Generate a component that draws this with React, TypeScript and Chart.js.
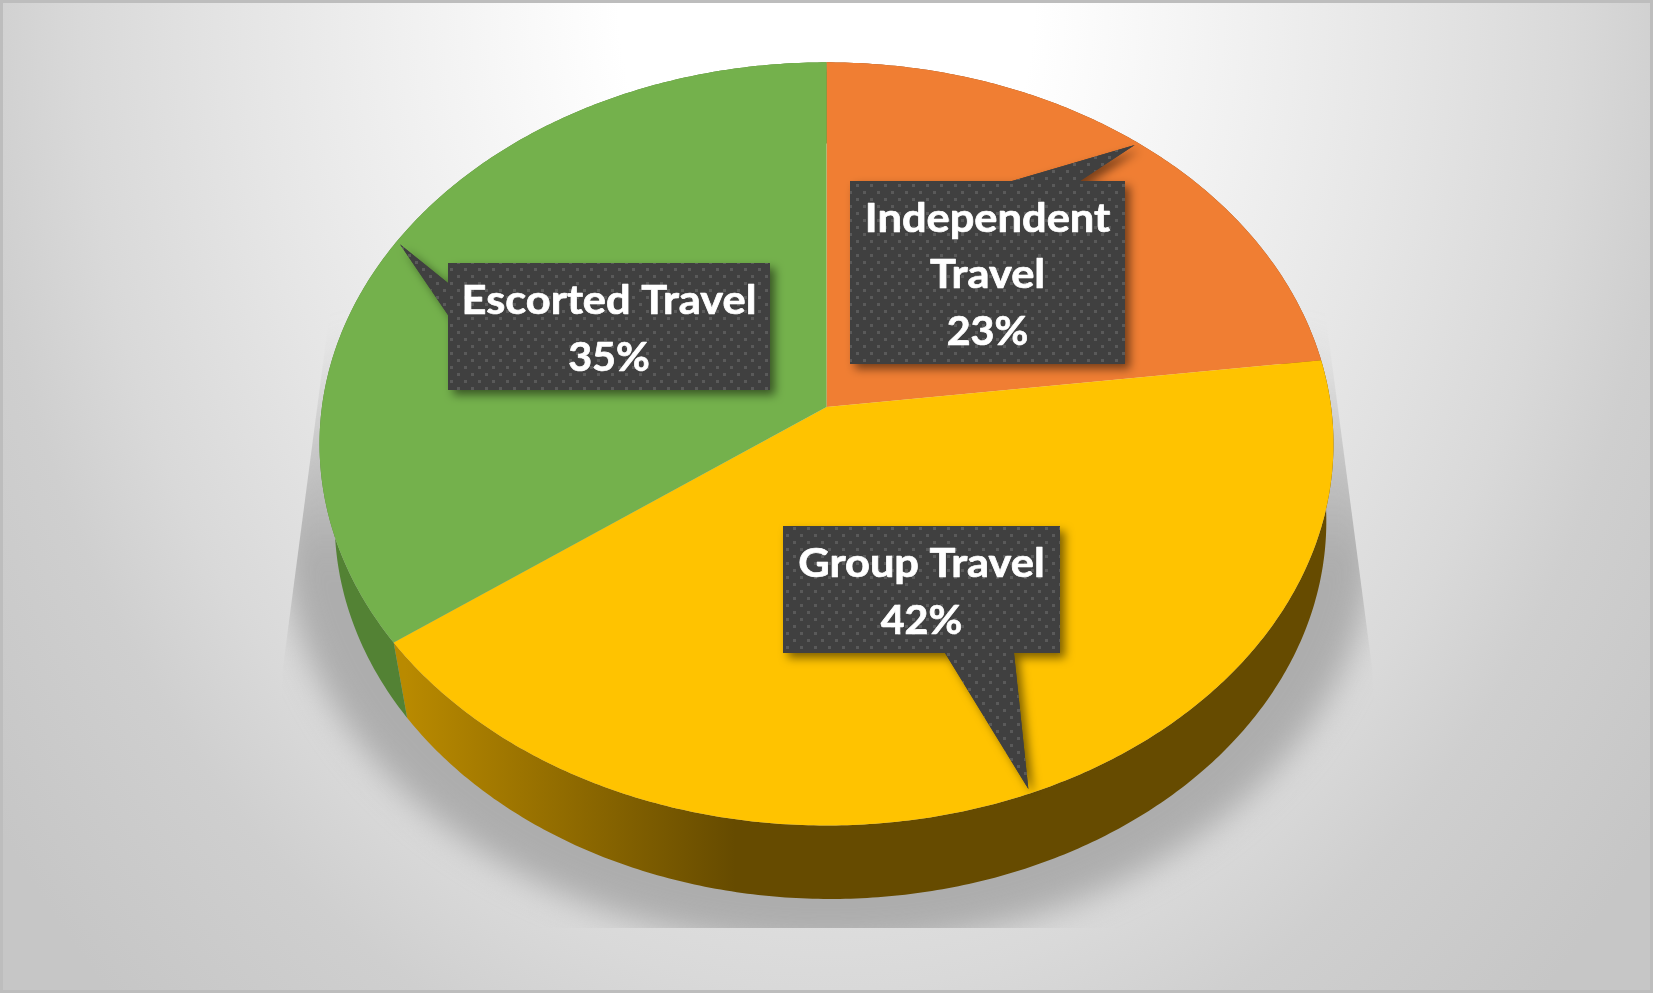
import React, { useEffect, useRef } from "react";
import { Chart, registerables } from "chart.js";

Chart.register(...registerables);

const categories = ["Independent Travel", "Group Travel", "Escorted Travel"];
const shares = [23, 42, 35];
const topColors = ["#F07E33", "#FFC300", "#74B14C"];

const W = 1653;
const H = 993;
const PERSPECTIVE = 0.0967;
const X_RATIO = 504.6 / 407;
const Y_RATIO = 378 / 407;
const BOTTOM_SX = 0.978;
const BOTTOM_SY = 0.99;
const BOTTOM_CY = 484.7;
const BOTTOM_DX = 4;
const FONT = '700 40px Lato, "Open Sans", sans-serif';

const calloutBoxes = [
  { l: 850, t: 181, r: 1125, b: 364, side: "top", p0: 1012, p1: 1080, dy: 3, wrap: true },
  { l: 783, t: 526, r: 1060, b: 653, side: "bottom", p0: 945, p1: 1014, dy: 3, wrap: false },
  { l: 448, t: 263, r: 770, b: 390, side: "left", p0: 283, p1: 315, dy: 3, wrap: false },
];

type Pt = { x: number; y: number };

function project(el: any, angle: number, rad = 1): Pt {
  const u = Math.cos(angle) * rad;
  const v = Math.sin(angle) * rad;
  const w = 1 - PERSPECTIVE * v;
  return {
    x: el.x + (el.outerRadius * X_RATIO * u) / w,
    y: el.y + (el.outerRadius * Y_RATIO * v) / w,
  };
}

function lower(el: any, p: Pt): Pt {
  return { x: el.x + BOTTOM_DX + BOTTOM_SX * (p.x - el.x), y: BOTTOM_CY + BOTTOM_SY * (p.y - el.y) };
}

function arcPoints(el: any, a0: number, a1: number): Pt[] {
  const n = Math.max(2, Math.ceil(Math.abs(a1 - a0) / 0.01));
  const pts: Pt[] = [];
  for (let i = 0; i <= n; i++) pts.push(project(el, a0 + ((a1 - a0) * i) / n));
  return pts;
}

function trace(ctx: CanvasRenderingContext2D, pts: Pt[]) {
  ctx.beginPath();
  pts.forEach((p, i) => (i ? ctx.lineTo(p.x, p.y) : ctx.moveTo(p.x, p.y)));
  ctx.closePath();
}

function dotPattern(ctx: CanvasRenderingContext2D) {
  const c = document.createElement("canvas");
  c.width = 14;
  c.height = 14;
  const g = c.getContext("2d")!;
  g.fillStyle = "#404040";
  g.fillRect(0, 0, 14, 14);
  g.fillStyle = "#5a5a5a";
  g.fillRect(2, 2, 3, 3);
  g.fillRect(9, 9, 3, 3);
  return ctx.createPattern(c, "repeat")!;
}

const backdrop = {
  id: "backdrop",
  beforeDraw(chart: any) {
    const ctx: CanvasRenderingContext2D = chart.ctx;
    ctx.save();
    ctx.translate(W / 2, 0);
    ctx.scale(830, 1100);
    const g = ctx.createRadialGradient(0, 0, 0, 0, 0, 1.25);
    g.addColorStop(0, "#ffffff");
    g.addColorStop(0.2, "#ffffff");
    g.addColorStop(0.55, "#e6e6e6");
    g.addColorStop(0.72, "#d9d9d9");
    g.addColorStop(0.82, "#cfcfcf");
    g.addColorStop(1, "#c6c6c6");
    ctx.fillStyle = g;
    ctx.fillRect(-2, -1, 4, 3);
    ctx.restore();
    ctx.save();
    ctx.strokeStyle = "#bdbdbd";
    ctx.lineWidth = 3;
    ctx.strokeRect(1.5, 1.5, W - 3, H - 3);
    ctx.restore();
  },
};

const pie3d = {
  id: "pie3d",
  beforeDatasetDraw(chart: any) {
    const ctx: CanvasRenderingContext2D = chart.ctx;
    const arcs: any[] = chart.getDatasetMeta(0).data;
    const el0 = arcs[0];

    // soft ground shadow, clipped to the trapezoid visible in the picture
    ctx.save();
    ctx.beginPath();
    ctx.moveTo(330, 310);
    ctx.lineTo(283, 667);
    ctx.lineTo(265, 928);
    ctx.lineTo(1390, 928);
    ctx.lineTo(1372, 667);
    ctx.lineTo(1325, 310);
    ctx.closePath();
    ctx.clip();
    const fade = ctx.createLinearGradient(0, 330, 0, 560);
    fade.addColorStop(0, "rgba(173,173,173,0)");
    fade.addColorStop(1, "rgba(173,173,173,1)");
    ctx.filter = "blur(16px)";
    ctx.fillStyle = fade;
    ctx.beginPath();
    ctx.ellipse(el0.x + 2, 525, 548, 422, 0, 0, Math.PI * 2);
    ctx.fill();
    ctx.filter = "none";
    ctx.restore();

    // side walls
    const yellowWall = ctx.createLinearGradient(405, 0, 735, 0);
    yellowWall.addColorStop(0, "#B98A00");
    yellowWall.addColorStop(1, "#664B00");
    const wallFills = ["#8A4A1E", yellowWall, "#538234"];
    arcs.forEach((el, i) => {
      const top = arcPoints(el, el.startAngle, el.endAngle);
      const bottom = top.map((p) => lower(el, p)).reverse();
      ctx.fillStyle = wallFills[i] as any;
      trace(ctx, [...top, ...bottom]);
      ctx.fill();
    });

    // top faces
    arcs.forEach((el) => {
      ctx.fillStyle = el.options.backgroundColor;
      trace(ctx, [{ x: el.x, y: el.y }, ...arcPoints(el, el.startAngle, el.endAngle)]);
      ctx.fill();
    });

    // callouts
    const pattern = dotPattern(ctx);
    arcs.forEach((el, i) => {
      const box = calloutBoxes[i];
      const tip = project(el, (el.startAngle + el.endAngle) / 2, 0.99);
      const pts: Pt[] = [];
      pts.push({ x: box.l, y: box.t });
      if (box.side === "top") pts.push({ x: box.p0, y: box.t }, tip, { x: box.p1, y: box.t });
      pts.push({ x: box.r, y: box.t }, { x: box.r, y: box.b });
      if (box.side === "bottom") pts.push({ x: box.p1, y: box.b }, tip, { x: box.p0, y: box.b });
      pts.push({ x: box.l, y: box.b });
      if (box.side === "left") pts.push({ x: box.l, y: box.p1 }, tip, { x: box.l, y: box.p0 });

      ctx.save();
      ctx.shadowColor = "rgba(0,0,0,0.5)";
      ctx.shadowBlur = 10;
      ctx.shadowOffsetX = 5;
      ctx.shadowOffsetY = 5;
      ctx.fillStyle = "#404040";
      trace(ctx, pts);
      ctx.fill();
      ctx.restore();
      ctx.fillStyle = pattern;
      trace(ctx, pts);
      ctx.fill();

      const name = categories[i];
      const words = box.wrap ? name.split(" ") : [name];
      const lines = [...words, `${shares[i]}%`];
      const lh = 56.4;
      const mx = (box.l + box.r) / 2;
      const my = (box.t + box.b) / 2 + box.dy;
      lines.forEach((ln, k) => {
        const isShare = k === lines.length - 1;
        ctx.save();
        ctx.translate(mx, my + (k - (lines.length - 1) / 2) * lh);
        ctx.scale(isShare ? 1.03 : 1.085, 1);
        ctx.font = FONT;
        ctx.textAlign = "center";
        ctx.textBaseline = "middle";
        ctx.fillStyle = "#ffffff";
        ctx.strokeStyle = "#ffffff";
        ctx.lineWidth = 0.7;
        ctx.lineJoin = "round";
        ctx.strokeText(ln, 0, 0);
        ctx.fillText(ln, 0, 0);
        ctx.restore();
      });
    });
    return false;
  },
};

export default function App() {
  const ref = useRef<HTMLCanvasElement>(null);
  useEffect(() => {
    const chart = new Chart(ref.current!, {
      type: "pie",
      data: {
        labels: categories,
        datasets: [{ data: shares, backgroundColor: topColors, borderWidth: 0 }],
      },
      options: {
        responsive: false,
        animation: false,
        devicePixelRatio: 1,
        layout: { padding: { bottom: 179 } },
        plugins: { legend: { display: false }, tooltip: { enabled: false } },
      },
      plugins: [backdrop, pie3d],
    } as any);
    return () => chart.destroy();
  }, []);
  return (
    <div style={{ position: "fixed", left: 0, top: 0, width: W, height: H }}>
      <canvas ref={ref} width={W} height={H} style={{ display: "block" }} />
    </div>
  );
}
